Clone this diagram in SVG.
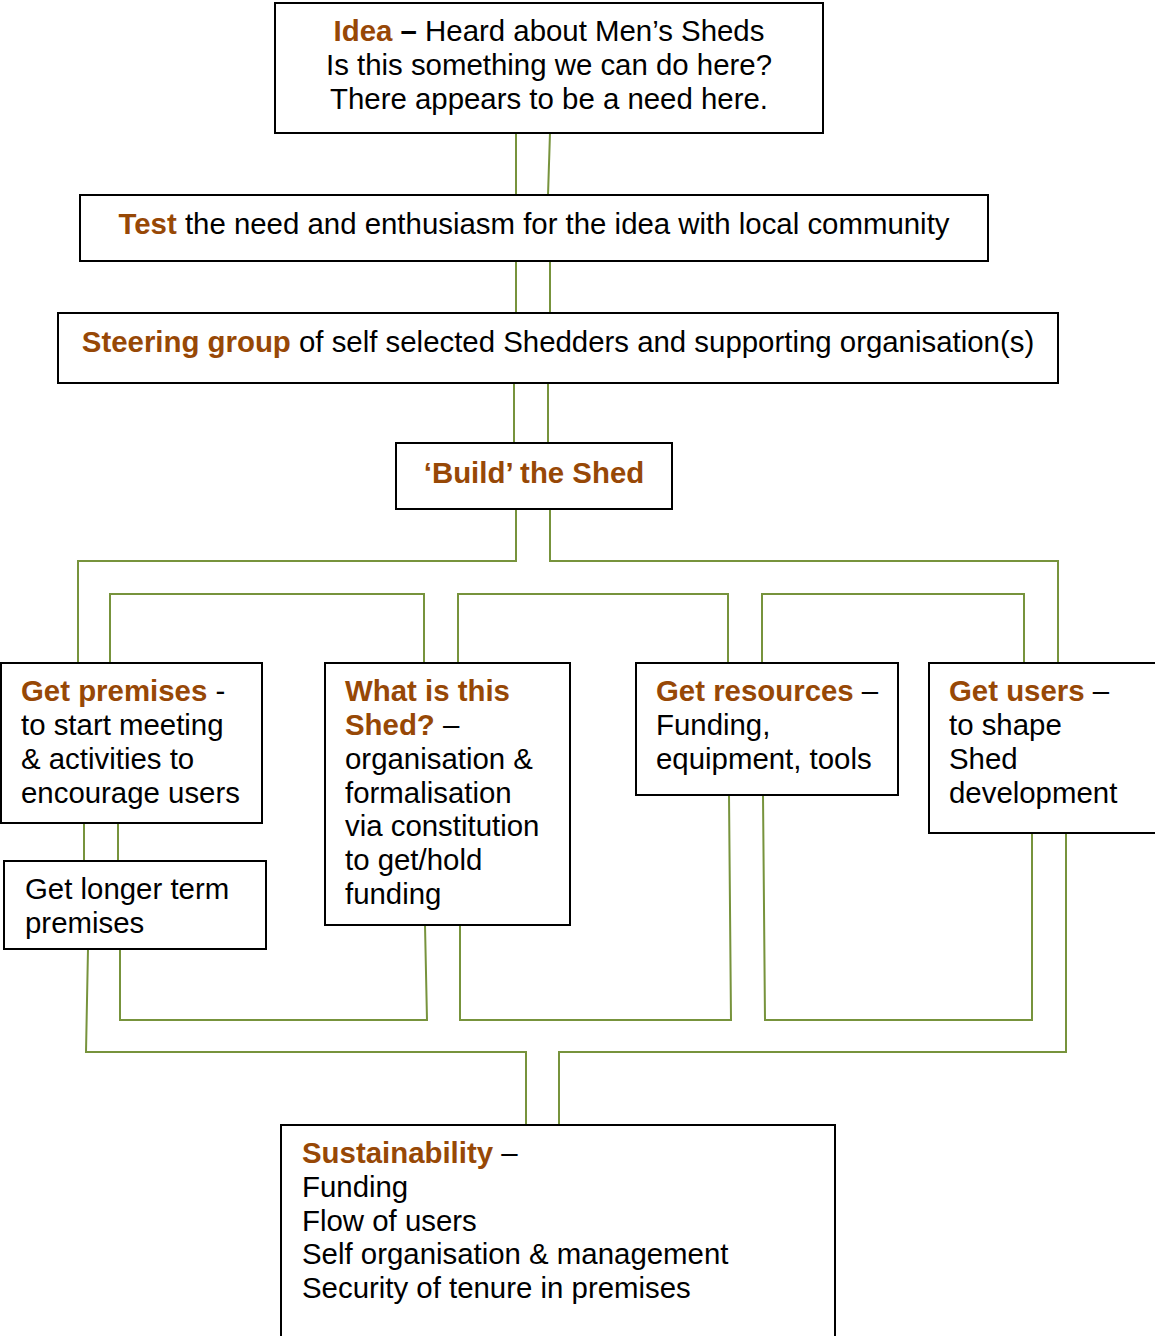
<svg xmlns="http://www.w3.org/2000/svg" width="1155" height="1336" viewBox="0 0 1155 1336">
  <style>
    .box { fill: #ffffff; stroke: #000000; stroke-width: 2; }
    .t { font-family: "Liberation Sans", Arial, sans-serif; font-size: 29.4px; fill: #000000; }
    .c { text-anchor: middle; }
    .h { font-weight: bold; fill: #974806; }
    .b { font-weight: bold; }
    .wire { fill: none; stroke: #77933C; stroke-width: 2; }
  </style>
  <rect x="0" y="0" width="1155" height="1336" fill="#ffffff"/>

  <!-- connectors -->
  <g id="connectors" class="wire">
    <!-- Idea to Test -->
    <path d="M516,133 V195"/>
    <path d="M550,133 L548,195"/>
    <!-- Test to Steering group -->
    <path d="M516,261 V313"/>
    <path d="M550,261 V313"/>
    <!-- Steering group to Build -->
    <path d="M514,383 V443"/>
    <path d="M548,383 V443"/>
    <!-- Build fan-out, outer pair -->
    <path d="M516,509 V561 H78 V663"/>
    <path d="M550,509 V561 H1058 V663"/>
    <!-- Build fan-out, inner pairs -->
    <path d="M110,663 V594 H424 V663"/>
    <path d="M458,663 V594 H728 V663"/>
    <path d="M762,663 V594 H1024 V663"/>
    <!-- Get premises to Get longer term premises -->
    <path d="M84,823 V861"/>
    <path d="M118,823 V861"/>
    <!-- Gather-in, inner pairs -->
    <path d="M120,949 V1020 H427 L425,925"/>
    <path d="M460,925 V1020 H731 L729,795"/>
    <path d="M763,795 L765,1020 H1032 V833"/>
    <!-- Gather-in, outer pair to Sustainability -->
    <path d="M88,949 L86,1052 H526 V1125"/>
    <path d="M1066,833 V1052 H559 V1125"/>
  </g>

  <!-- Idea -->
  <g id="node-idea">
    <rect class="box" x="275" y="3" width="548" height="130"/>
    <text class="t c" x="549" y="41"><tspan class="h">Idea</tspan><tspan class="b"> –</tspan> Heard about Men’s Sheds</text>
    <text class="t c" x="549" y="75">Is this something we can do here?</text>
    <text class="t c" x="549" y="109">There appears to be a need here.</text>
  </g>

  <!-- Test -->
  <g id="node-test">
    <rect class="box" x="80" y="195" width="908" height="66"/>
    <text class="t c" x="534" y="234"><tspan class="h">Test</tspan> the need and enthusiasm for the idea with local community</text>
  </g>

  <!-- Steering group -->
  <g id="node-steering">
    <rect class="box" x="58" y="313" width="1000" height="70"/>
    <text class="t c" x="558" y="352"><tspan class="h">Steering group</tspan> of self selected Shedders and supporting organisation(s)</text>
  </g>

  <!-- Build the Shed -->
  <g id="node-build">
    <rect class="box" x="396" y="443" width="276" height="66"/>
    <text class="t c h" x="534" y="483">‘Build’ the Shed</text>
  </g>

  <!-- Get premises -->
  <g id="node-premises">
    <rect class="box" x="1" y="663" width="261" height="160"/>
    <text class="t" x="21" y="701"><tspan class="h">Get premises</tspan> -</text>
    <text class="t" x="21" y="735">to start meeting</text>
    <text class="t" x="21" y="769">&amp; activities to</text>
    <text class="t" x="21" y="803">encourage users</text>
  </g>

  <!-- Get longer term premises -->
  <g id="node-longer">
    <rect class="box" x="4" y="861" width="262" height="88"/>
    <text class="t" x="25" y="899">Get longer term</text>
    <text class="t" x="25" y="933">premises</text>
  </g>

  <!-- What is this Shed? -->
  <g id="node-what">
    <rect class="box" x="325" y="663" width="245" height="262"/>
    <text class="t h" x="345" y="701">What is this</text>
    <text class="t" x="345" y="735"><tspan class="h">Shed?</tspan> –</text>
    <text class="t" x="345" y="769">organisation &amp;</text>
    <text class="t" x="345" y="803">formalisation</text>
    <text class="t" x="345" y="836">via constitution</text>
    <text class="t" x="345" y="870">to get/hold</text>
    <text class="t" x="345" y="904">funding</text>
  </g>

  <!-- Get resources -->
  <g id="node-resources">
    <rect class="box" x="636" y="663" width="262" height="132"/>
    <text class="t" x="656" y="701"><tspan class="h">Get resources</tspan> –</text>
    <text class="t" x="656" y="735">Funding,</text>
    <text class="t" x="656" y="769">equipment, tools</text>
  </g>

  <!-- Get users -->
  <g id="node-users">
    <rect class="box" x="929" y="663" width="240" height="170"/>
    <text class="t" x="949" y="701"><tspan class="h">Get users</tspan> –</text>
    <text class="t" x="949" y="735">to shape</text>
    <text class="t" x="949" y="769">Shed</text>
    <text class="t" x="949" y="803">development</text>
  </g>

  <!-- Sustainability -->
  <g id="node-sustainability">
    <rect class="box" x="281" y="1125" width="554" height="230"/>
    <text class="t" x="302" y="1163"><tspan class="h">Sustainability</tspan> –</text>
    <text class="t" x="302" y="1197">Funding</text>
    <text class="t" x="302" y="1231">Flow of users</text>
    <text class="t" x="302" y="1264">Self organisation &amp; management</text>
    <text class="t" x="302" y="1298">Security of tenure in premises</text>
  </g>
</svg>
